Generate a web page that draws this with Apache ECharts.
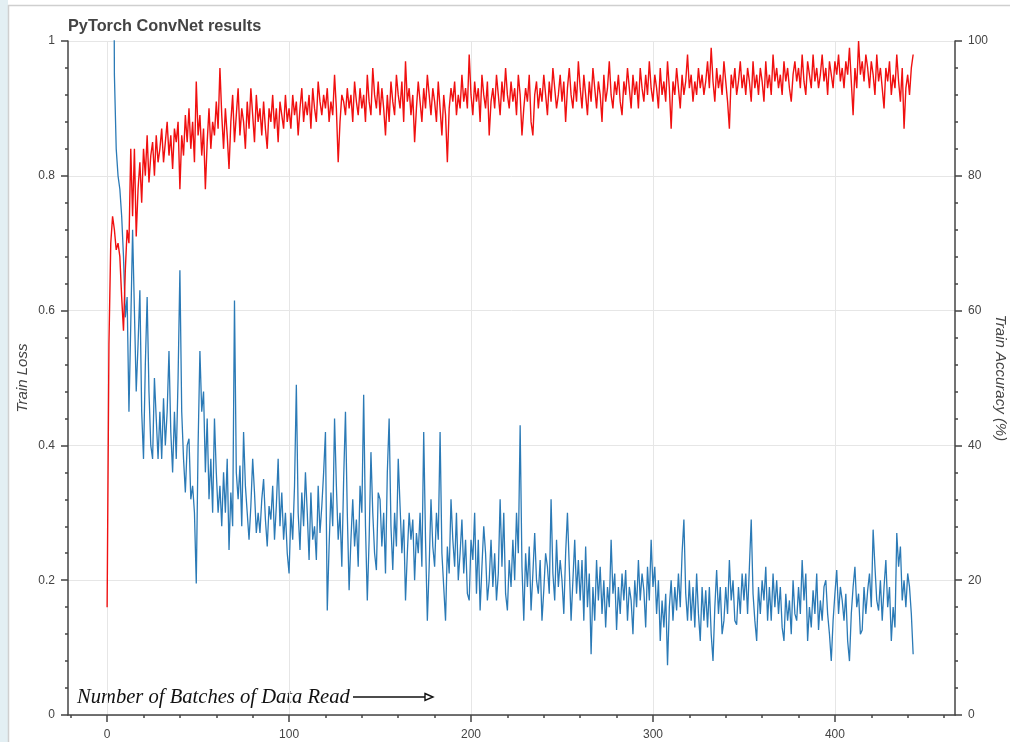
<!DOCTYPE html>
<html>
<head>
<meta charset="utf-8">
<title>PyTorch ConvNet results</title>
<script src="https://cdn.jsdelivr.net/npm/echarts@6/dist/echarts.min.js"></script>
<style>
  html, body { margin: 0; padding: 0; background: #fff; }
  #chart { width: 1010px; height: 742px; }
</style>
</head>
<body>
<div id="chart"></div>
<script>
// batch index ticks (major ones get labels)
const batchTicks = [0, 100, 200, 300, 400]
const batchMinorTicks = [-20, 20, 40, 60, 80, 120, 140, 160, 180, 220, 240, 260, 280, 320, 340, 360, 380, 420, 440, 460]

// train loss per batch (first points run off the top)
const lossValues = [
  2.30, 2.25, 2.10, 1.60, 0.95, 0.84, 0.80, 0.78, 0.74, 0.68,
  0.59, 0.62, 0.45, 0.58, 0.72, 0.60, 0.48, 0.55, 0.63, 0.45,
  0.38, 0.52, 0.62, 0.48, 0.40, 0.38, 0.50, 0.44, 0.38, 0.45,
  0.38, 0.47, 0.40, 0.45, 0.54, 0.42, 0.36, 0.45, 0.38, 0.50,
  0.66, 0.45, 0.38, 0.33, 0.40, 0.41, 0.32, 0.34, 0.30, 0.195,
  0.40, 0.54, 0.45, 0.48, 0.36, 0.44, 0.32, 0.38, 0.30, 0.44,
  0.36, 0.30, 0.34, 0.28, 0.36, 0.30, 0.38, 0.245, 0.33, 0.28,
  0.615, 0.36, 0.32, 0.37, 0.28, 0.42, 0.34, 0.30, 0.26, 0.31,
  0.38, 0.33, 0.27, 0.30, 0.27, 0.32, 0.35, 0.29, 0.25, 0.31,
  0.29, 0.34, 0.26, 0.31, 0.38, 0.28, 0.33, 0.26, 0.30, 0.24,
  0.21, 0.30, 0.26, 0.34, 0.49, 0.30, 0.245, 0.33, 0.28, 0.36,
  0.30, 0.23, 0.33, 0.26, 0.28, 0.23, 0.34, 0.27, 0.31, 0.36,
  0.42, 0.155, 0.25, 0.33, 0.28, 0.44, 0.34, 0.26, 0.30, 0.22,
  0.35, 0.45, 0.30, 0.185, 0.26, 0.32, 0.25, 0.29, 0.22, 0.34,
  0.30, 0.475, 0.28, 0.17, 0.26, 0.39, 0.30, 0.24, 0.215, 0.33,
  0.32, 0.25, 0.30, 0.21, 0.36, 0.44, 0.28, 0.215, 0.30, 0.25,
  0.38, 0.31, 0.24, 0.29, 0.17, 0.24, 0.30, 0.26, 0.29, 0.20,
  0.27, 0.24, 0.30, 0.22, 0.42, 0.26, 0.14, 0.22, 0.32, 0.25,
  0.22, 0.30, 0.26, 0.42, 0.24, 0.19, 0.14, 0.25, 0.21, 0.32,
  0.26, 0.22, 0.30, 0.20, 0.24, 0.29, 0.21, 0.26, 0.18, 0.17,
  0.26, 0.23, 0.30, 0.18, 0.26, 0.155, 0.22, 0.28, 0.24, 0.17,
  0.20, 0.26, 0.19, 0.24, 0.17, 0.21, 0.32, 0.22, 0.30, 0.18,
  0.155, 0.23, 0.19, 0.26, 0.20, 0.30, 0.24, 0.43, 0.22, 0.14,
  0.24, 0.19, 0.25, 0.155, 0.21, 0.27, 0.20, 0.18, 0.23, 0.14,
  0.185, 0.24, 0.22, 0.18, 0.32, 0.21, 0.17, 0.26, 0.19, 0.23,
  0.20, 0.15, 0.24, 0.30, 0.22, 0.14, 0.20, 0.26, 0.18, 0.23,
  0.17, 0.23, 0.14, 0.25, 0.16, 0.21, 0.09, 0.19, 0.14, 0.23,
  0.17, 0.22, 0.15, 0.20, 0.13, 0.19, 0.16, 0.26, 0.18, 0.21,
  0.126, 0.19, 0.15, 0.21, 0.17, 0.215, 0.14, 0.19, 0.17, 0.12,
  0.20, 0.16, 0.23, 0.17, 0.21, 0.185, 0.13, 0.22, 0.17, 0.26,
  0.19, 0.22, 0.15, 0.20, 0.11, 0.17, 0.13, 0.18, 0.074, 0.16,
  0.20, 0.14, 0.19, 0.155, 0.21, 0.16, 0.24, 0.29, 0.18, 0.14,
  0.20, 0.14, 0.19, 0.13, 0.21, 0.15, 0.11, 0.19, 0.14, 0.185,
  0.13, 0.19, 0.12, 0.08, 0.16, 0.215, 0.15, 0.19, 0.12, 0.14,
  0.19, 0.15, 0.23, 0.17, 0.20, 0.14, 0.134, 0.19, 0.15, 0.21,
  0.17, 0.21, 0.15, 0.22, 0.29, 0.18, 0.14, 0.11, 0.19, 0.15,
  0.20, 0.17, 0.22, 0.14, 0.19, 0.14, 0.21, 0.16, 0.20, 0.15,
  0.19, 0.13, 0.11, 0.18, 0.14, 0.17, 0.12, 0.20, 0.15, 0.14,
  0.19, 0.15, 0.23, 0.17, 0.21, 0.11, 0.16, 0.13, 0.185, 0.15,
  0.21, 0.126, 0.17, 0.14, 0.19, 0.20, 0.15, 0.12, 0.08, 0.14,
  0.18, 0.215, 0.15, 0.19, 0.17, 0.14, 0.18, 0.11, 0.08, 0.15,
  0.19, 0.22, 0.16, 0.18, 0.12, 0.126, 0.19, 0.15, 0.185, 0.21,
  0.16, 0.275, 0.22, 0.17, 0.155, 0.20, 0.14, 0.19, 0.23, 0.16,
  0.19, 0.11, 0.16, 0.13, 0.27, 0.22, 0.25, 0.17, 0.20, 0.16,
  0.21, 0.19, 0.15, 0.09
]

// train accuracy (%) per batch
const accuracyValues = [
  16, 55, 70, 74, 72, 69, 70, 68, 62, 57,
  66, 72, 70, 84, 74, 84, 71, 78, 82, 76,
  84, 80, 86, 79, 83, 85, 80, 86, 82, 84,
  87, 82, 85, 88, 83, 86, 81, 87, 85, 88,
  78, 86, 83, 89, 85, 90, 84, 88, 82, 94,
  86, 89, 83, 87, 78, 85, 90, 84, 88, 86,
  91, 87, 96, 89, 84, 90, 86, 81, 88, 92,
  85, 89, 93, 86, 90, 88, 84, 91, 87, 93,
  89, 85, 92, 88, 90, 86, 91, 87, 84, 90,
  88, 92, 87, 90, 85, 91, 89, 87, 92, 88,
  90, 87, 92, 89, 91, 86, 90, 93, 88, 91,
  89, 92, 87, 93, 90, 88, 94, 91, 89, 92,
  90, 93, 88, 91, 89, 95, 90, 82, 88, 92,
  91, 89, 93, 90, 92, 88, 94, 91, 89, 93,
  90, 92, 88, 95, 91, 89, 96, 92, 90, 94,
  89, 93, 90, 86, 92, 88, 94, 91, 89, 95,
  92, 90, 94, 88, 97, 91, 93, 89, 92, 85,
  90, 94, 91, 88, 93, 90, 95, 92, 89, 93,
  91, 88, 94, 90, 86, 92, 89, 82, 90, 93,
  91, 94, 89, 92, 90, 95, 91, 93, 90, 98,
  92, 89, 94, 91, 93, 88, 95, 92, 90, 94,
  86, 91, 93, 90, 95, 92, 89, 94, 91, 96,
  92, 90, 94, 91, 93, 89, 95, 92, 86, 90,
  93, 91, 95, 88, 86, 92, 94, 90, 93, 91,
  95, 92, 89, 94, 91, 96, 93, 90, 92, 95,
  91, 94, 88, 93, 96, 92, 90, 94, 91, 97,
  93, 90, 95, 92, 89, 94, 91, 96, 93, 90,
  94, 92, 88, 95, 91, 93, 97, 92, 90, 94,
  92, 95, 91, 89, 94, 92, 96, 93, 90, 95,
  92, 94, 90, 96, 93, 91, 95, 92, 97, 93,
  91, 95, 93, 90, 96, 92, 94, 91, 97, 93,
  87, 94, 92, 96, 93, 90, 95, 92, 94, 98,
  93, 95, 91, 94, 92, 96, 93, 95, 92, 94,
  97, 93, 99, 94, 91, 96, 93, 95, 92, 97,
  94, 91, 87, 95, 93, 96, 92, 94, 97, 93,
  95, 92, 96, 94, 91, 97, 93, 95, 92, 96,
  94, 91, 97, 93, 95, 92, 98, 94, 96, 93,
  95, 92, 97, 94, 96, 93, 91, 95, 97, 94,
  96, 93, 98, 94, 92, 97, 95, 93, 98, 94,
  96, 93, 95, 98, 94, 96, 92, 97, 95, 93,
  97, 95, 98, 94, 96, 93, 97, 95, 99, 94,
  89, 96, 93, 100, 95, 97, 94, 98, 96, 93,
  97, 95, 92, 98, 94, 96, 93, 90, 96, 94,
  97, 92, 95, 93, 98, 94, 91, 96, 87, 93,
  95, 92, 96, 98
]

const AXIS_COLOR = '#444'
const GRID_COLOR = '#e6e6e6'
const FONT = 'Liberation Sans'

const chart = echarts.init(document.getElementById('chart'))

function yAxisBase(position) {
  return {
    type: 'value',
    position,
    min: 0,
    nameLocation: 'middle',
    nameMoveOverlap: false,
    nameTextStyle: { fontFamily: FONT, fontStyle: 'italic', fontSize: 15, color: AXIS_COLOR },
    axisLine: { show: true, onZero: false, lineStyle: { color: AXIS_COLOR, width: 1.5 } },
    axisTick: { show: true, length: 7, lineStyle: { color: AXIS_COLOR, width: 1.5 } },
    minorTick: { show: true, splitNumber: 5, length: 3, lineStyle: { color: AXIS_COLOR, width: 1.5 } },
    axisLabel: { fontFamily: FONT, fontSize: 12, color: AXIS_COLOR, margin: 13 }
  }
}

chart.setOption({
  animation: false,
  backgroundColor: '#fff',
  title: {
    text: 'PyTorch ConvNet results',
    left: 68,
    top: 19,
    padding: 0,
    textStyle: { fontFamily: FONT, fontWeight: 'bold', fontSize: 16.3, color: AXIS_COLOR }
  },
  grid: { left: 68, right: 55, top: 41, bottom: 27, outerBoundsMode: 'none' },
  xAxis: [
    {
      type: 'value',
      min: -21.5,
      max: 466,
      axisLine: { show: true, onZero: false, lineStyle: { color: AXIS_COLOR, width: 1.5 } },
      axisTick: { show: true, length: 7, customValues: batchTicks, lineStyle: { color: AXIS_COLOR, width: 1.5 } },
      axisLabel: { customValues: batchTicks, fontFamily: FONT, fontSize: 12, color: AXIS_COLOR, margin: 14 },
      splitLine: { show: true, lineStyle: { color: GRID_COLOR } }
    },
    {
      type: 'value',
      min: -21.5,
      max: 466,
      position: 'bottom',
      axisLine: { show: false, onZero: false },
      axisTick: { show: true, length: 3, customValues: batchMinorTicks, lineStyle: { color: AXIS_COLOR, width: 1.5 } },
      axisLabel: { show: false },
      splitLine: { show: false }
    }
  ],
  yAxis: [
    Object.assign(yAxisBase('left'), {
      max: 1,
      interval: 0.2,
      name: 'Train Loss',
      nameGap: 38,
      splitLine: { show: true, lineStyle: { color: GRID_COLOR } }
    }),
    Object.assign(yAxisBase('right'), {
      max: 100,
      interval: 20,
      name: 'Train Accuracy (%)',
      nameGap: 38,
      nameRotate: -90,
      splitLine: { show: false }
    })
  ],
  series: [
    {
      name: 'Train Loss',
      type: 'line',
      xAxisIndex: 0,
      yAxisIndex: 0,
      data: lossValues.map((v, i) => [i, v]),
      showSymbol: false,
      clip: true,
      lineStyle: { color: '#2b7ab6', width: 1.3 }
    },
    {
      name: 'Train Accuracy',
      type: 'line',
      xAxisIndex: 0,
      yAxisIndex: 1,
      data: accuracyValues.map((v, i) => [i, v]),
      showSymbol: false,
      clip: true,
      lineStyle: { color: '#f01010', width: 1.4 }
    }
  ],
  graphic: [
    { type: 'rect', shape: { x: 0, y: 0, width: 8, height: 742 }, style: { fill: '#e3eff3' }, silent: true },
    { type: 'line', shape: { x1: 8.5, y1: 5, x2: 8.5, y2: 742 }, style: { stroke: '#cfcfcf', lineWidth: 1.5 }, silent: true },
    { type: 'line', shape: { x1: 8, y1: 5.5, x2: 1010, y2: 5.5 }, style: { stroke: '#cfcfcf', lineWidth: 1.5 }, silent: true },
    {
      type: 'text',
      left: 77,
      top: 687,
      style: {
        text: 'Number of Batches of Data Read',
        font: 'italic 20.6px "Liberation Serif"',
        fill: '#111'
      }
    },
    { type: 'line', shape: { x1: 353, y1: 697, x2: 426, y2: 697 }, style: { stroke: '#111', lineWidth: 1.6 } },
    { type: 'polygon', shape: { points: [[425, 693.5], [433, 697], [425, 700.5]] }, style: { fill: '#fff', stroke: '#111', lineWidth: 1.4 } }
  ]
})

window.addEventListener('resize', () => chart.resize())
</script>
</body>
</html>
